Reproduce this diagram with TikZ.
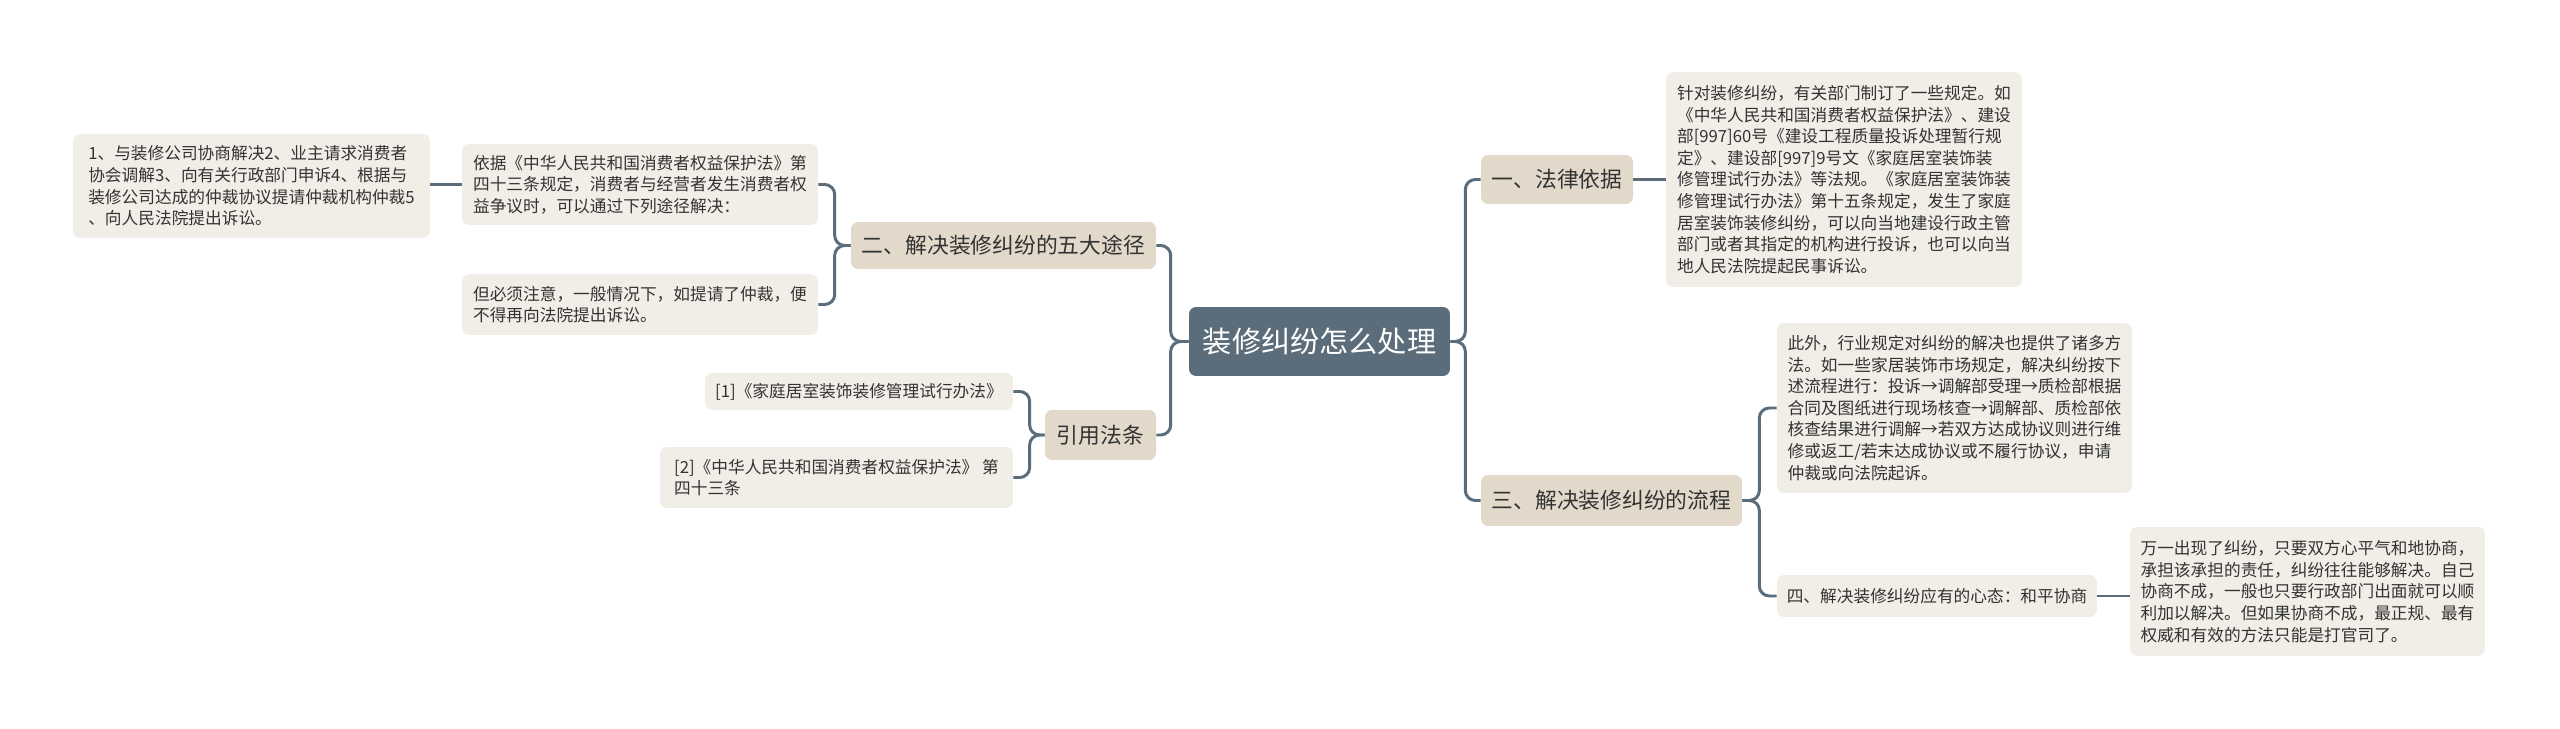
\documentclass[tikz,border=0pt]{standalone}
\usepackage{fontspec}
\setmainfont{Noto Sans CJK SC}
\usetikzlibrary{positioning}

\definecolor{slate}{HTML}{5B6D7A}
\definecolor{tan}{HTML}{E2D9CB}
\definecolor{paper}{HTML}{F1EEE7}
\definecolor{ink}{HTML}{333333}

\begin{document}
\begin{tikzpicture}[
    x=0.02cm, y=-0.02cm,
    root/.style={
        rectangle,
        rounded corners=0.14cm,
        fill=slate,
        text=white,
        font=\fontsize{16.6}{20}\selectfont,
        inner sep=0pt
    },
    topic/.style={
        rectangle,
        rounded corners=0.14cm,
        fill=tan,
        text=ink,
        font=\fontsize{12.4}{15}\selectfont,
        inner sep=0pt
    },
    leaf/.style={
        rectangle,
        rounded corners=0.14cm,
        fill=paper,
        text=ink,
        align=left,
        font=\fontsize{9.5}{12.3}\selectfont,
        inner sep=0pt
    },
    link/.style={
        draw=slate,
        line width=1.7pt,
        rounded corners=0.2cm
    }
]
\useasboundingbox (0,0) rectangle (2560,729);

% Nodes
\node[root, minimum width=5.22cm, minimum height=1.38cm] (root) at (1319.5,341.5) {装修纠纷怎么处理};

\node[topic, minimum width=6.1cm, minimum height=0.94cm] (ways) at (1003.5,245.5) {二、解决装修纠纷的五大途径};
\node[topic, minimum width=2.22cm, minimum height=1.0cm] (cite) at (1100.5,435) {引用法条};
\node[topic, minimum width=3.04cm, minimum height=0.98cm] (basis) at (1557,179.5) {一、法律依据};
\node[topic, minimum width=5.22cm, minimum height=1.02cm] (flow) at (1611.5,500.5) {三、解决装修纠纷的流程};

\node[leaf, minimum width=7.14cm, minimum height=2.08cm] (steps) at (251.5,186)
{1、与装修公司协商解决2、业主请求消费者\\协会调解3、向有关行政部门申诉4、根据与\\装修公司达成的仲裁协议提请仲裁机构仲裁5\\、向人民法院提出诉讼。};
\node[leaf, minimum width=7.12cm, minimum height=1.62cm] (consumer) at (640,184.5)
{依据《中华人民共和国消费者权益保护法》第\\四十三条规定，消费者与经营者发生消费者权\\益争议时，可以通过下列途径解决：};
\node[leaf, minimum width=7.12cm, minimum height=1.22cm] (caution) at (640,304.5)
{但必须注意，一般情况下，如提请了仲裁，便\\不得再向法院提出诉讼。};

\node[leaf, minimum width=6.16cm, minimum height=0.74cm] (refone) at (859,391.5)
{[1]《家庭居室装饰装修管理试行办法》};
\node[leaf, minimum width=7.06cm, minimum height=1.22cm] (reftwo) at (836.5,477.5)
{[2]《中华人民共和国消费者权益保护法》 第\\四十三条};

\node[leaf, minimum width=7.12cm, minimum height=4.3cm] (rules) at (1844,179.5)
{针对装修纠纷，有关部门制订了一些规定。如\\《中华人民共和国消费者权益保护法》、建设\\部[997]60号《建设工程质量投诉处理暂行规\\定》、建设部[997]9号文《家庭居室装饰装\\修管理试行办法》等法规。《家庭居室装饰装\\修管理试行办法》第十五条规定，发生了家庭\\居室装饰装修纠纷，可以向当地建设行政主管\\部门或者其指定的机构进行投诉，也可以向当\\地人民法院提起民事诉讼。};

\node[leaf, minimum width=7.1cm, minimum height=3.4cm] (market) at (1954.5,408)
{此外，行业规定对纠纷的解决也提供了诸多方\\法。如一些家居装饰市场规定，解决纠纷按下\\述流程进行：投诉→调解部受理→质检部根据\\合同及图纸进行现场核查→调解部、质检部依\\核查结果进行调解→若双方达成协议则进行维\\修或返工/若末达成协议或不履行协议，申请\\仲裁或向法院起诉。};
\node[leaf, minimum width=6.4cm, minimum height=0.84cm] (mood) at (1937,596)
{四、解决装修纠纷应有的心态：和平协商};
\node[leaf, minimum width=7.1cm, minimum height=2.58cm] (peace) at (2307.5,591.5)
{万一出现了纠纷，只要双方心平气和地协商，\\承担该承担的责任，纠纷往往能够解决。自己\\协商不成，一般也只要行政部门出面就可以顺\\利加以解决。但如果协商不成，最正规、最有\\权威和有效的方法只能是打官司了。};

% Left branches
\draw[link] (root.west) -- ++(-18,0) |- (ways.east);
\draw[link] (root.west) -- ++(-18,0) |- (cite.east);
\draw[link] (ways.west) -- ++(-16,0) |- (consumer.east);
\draw[link] (ways.west) -- ++(-16,0) |- (caution.east);
\draw[link] (consumer.west) -- (consumer.west -| steps.east);
\draw[link] (cite.west) -- ++(-15,0) |- (refone.east);
\draw[link] (cite.west) -- ++(-15,0) |- (reftwo.east);

% Right branches
\draw[link] (root.east) -- ++(15,0) |- (basis.west);
\draw[link] (root.east) -- ++(15,0) |- (flow.west);
\draw[link] (basis.east) -- (rules.west);
\draw[link] (flow.east) -- ++(17,0) |- (market.west);
\draw[link] (flow.east) -- ++(17,0) |- (mood.west);
\draw[link] (mood.east) -- (mood.east -| peace.west);

\end{tikzpicture}
\end{document}
